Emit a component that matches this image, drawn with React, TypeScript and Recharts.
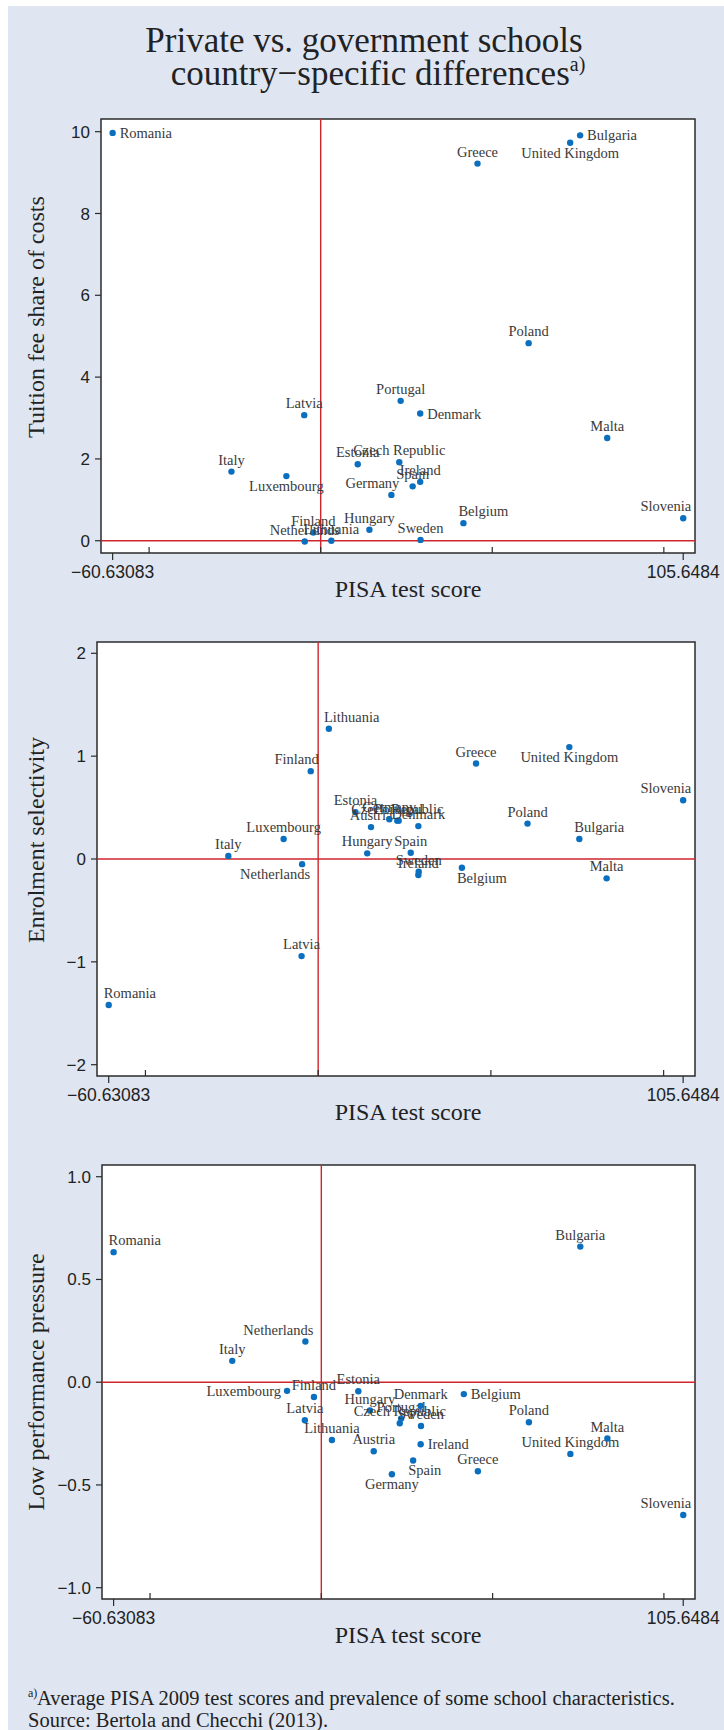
import React from "react"
import { ScatterChart, Scatter, XAxis, YAxis, ReferenceLine, ReferenceArea, CartesianGrid } from "recharts"

// country data
const countries = [
  "Romania", "Italy", "Luxembourg", "Latvia", "Netherlands", "Finland", "Lithuania", "Estonia",
  "Hungary", "Austria", "Germany", "Czech Republic", "Portugal", "Spain", "Denmark", "Ireland",
  "Sweden", "Belgium", "Greece", "Poland", "United Kingdom", "Bulgaria", "Malta", "Slovenia",
]
const pisaScore = [
  -60.63083, -26.0, -10.0, -4.8, -4.65, -2.15, 3.1, 10.8,
  14.2, 15.3, 20.6, 22.9, 23.3, 26.8, 29.0, 29.0,
  29.1, 41.6, 45.7, 60.6, 72.7, 75.6, 83.5, 105.6484,
]
const tuitionShare: (number | null)[] = [
  9.97, 1.69, 1.58, 3.07, -0.02, 0.2, 0.0, 1.87,
  0.27, null, 1.12, 1.92, 3.42, 1.33, 3.11, 1.44,
  0.02, 0.43, 9.22, 4.83, 9.73, 9.91, 2.51, 0.55,
]
const enrolmentSelectivity = [
  -1.42, 0.03, 0.195, -0.944, -0.05, 0.854, 1.266, 0.455,
  0.055, 0.31, 0.387, 0.373, 0.373, 0.061, 0.32, -0.156,
  -0.124, -0.085, 0.928, 0.344, 1.088, 0.195, -0.188, 0.571,
]
const lowPerformancePressure = [
  0.633, 0.104, -0.042, -0.185, 0.198, -0.072, -0.281, -0.044,
  -0.138, -0.336, -0.448, -0.2, -0.177, -0.381, -0.115, -0.302,
  -0.213, -0.058, -0.433, -0.195, -0.349, 0.66, -0.274, -0.646,
]

const xTicks = [-60.63083, -50, 0, 50, 100, 105.6484]
const xTickLabels = ["\u221260.63083", "", "", "", "", "105.6484"]
const tuitionTicks = [0, 2, 4, 6, 8, 10]
const enrolmentTicks = [-2, -1, 0, 1, 2]
const pressureTicks = [-1, -0.5, 0, 0.5, 1]

type Pos = "N" | "NE" | "NW" | "S" | "SE" | "SW" | "E" | "W"

// where each marker label sits (default is above the dot)
const tuitionLabelPos: Record<string, Pos> = {
  Romania: "E", Luxembourg: "S", Germany: "NW", Denmark: "E", Belgium: "NE",
  "United Kingdom": "S", Bulgaria: "E", Slovenia: "NW",
}
const enrolmentLabelPos: Record<string, Pos> = {
  Romania: "NE", Netherlands: "SW", Finland: "NW", Lithuania: "NE", Belgium: "SE",
  "United Kingdom": "S", Bulgaria: "NE", Slovenia: "NW",
}
const pressureLabelPos: Record<string, Pos> = {
  Romania: "NE", Luxembourg: "W", Netherlands: "NW", Germany: "S", Spain: "SE",
  Ireland: "E", Belgium: "E", Slovenia: "NW",
}

const BG = "#dfe6f2"
const DOT = "#0b6fbf"
const RED = "#cf252c"
const SERIF = "'Liberation Serif', 'Times New Roman', serif"
const SANS = "'Liberation Sans', Arial, sans-serif"
const X_DOMAIN: [number, number] = [-64.02, 109.08]
const PLOT_H = 434
const TOP_M = 20

const minus = (s: string) => s.replace("-", "\u2212")

function labelAttrs(pos: Pos, cx: number, cy: number) {
  switch (pos) {
    case "E": return { x: cx + 7, y: cy + 5, anchor: "start" }
    case "W": return { x: cx - 6, y: cy + 5, anchor: "end" }
    case "S": return { x: cx, y: cy + 15, anchor: "middle" }
    case "SE": return { x: cx - 5, y: cy + 15, anchor: "start" }
    case "SW": return { x: cx + 8, y: cy + 15, anchor: "end" }
    case "NE": return { x: cx - 5, y: cy - 7, anchor: "start" }
    case "NW": return { x: cx + 8, y: cy - 7, anchor: "end" }
    default: return { x: cx, y: cy - 7, anchor: "middle" }
  }
}

function Marker(props: any) {
  const { cx, cy, payload, places } = props
  if (cx == null || cy == null) return null
  const a = labelAttrs(places[payload.name] || "N", cx, cy)
  return (
    <g>
      <circle cx={cx} cy={cy} r={3.2} fill={DOT} />
      <text x={a.x} y={a.y} textAnchor={a.anchor} fontFamily={SERIF} fontSize={14.5} fill="#3a3a3a">
        {payload.name}
      </text>
    </g>
  )
}

function XTick(props: any) {
  const { x, y, payload } = props
  const i = xTicks.indexOf(payload.value)
  const label = i >= 0 ? xTickLabels[i] : ""
  return (
    <g>
      <line x1={x} x2={x} y1={y} y2={label ? y + 7 : y - 6} stroke="#2b2b2b" strokeWidth={1.2} />
      {label && (
        <text x={x} y={y + 25} textAnchor="middle" fontFamily={SANS} fontSize={17.5} fill="#222">
          {label}
        </text>
      )}
    </g>
  )
}

function YTitle({ text, shift }: { text: string; shift: number }) {
  const cx = 36
  const cy = TOP_M + PLOT_H / 2 + shift
  return (
    <text x={cx} y={cy} transform={`rotate(-90 ${cx} ${cy})`} textAnchor="middle" dominantBaseline="central"
      fontFamily={SERIF} fontSize={24} fill="#222">
      {text}
    </text>
  )
}

function XTitle() {
  return (
    <text x={408} y={TOP_M + PLOT_H + 44} textAnchor="middle" fontFamily={SERIF} fontSize={24} fill="#222">
      PISA test score
    </text>
  )
}

interface PanelProps {
  top: number
  plotLeft: number
  values: (number | null)[]
  yDomain: [number, number]
  yTicks: number[]
  yFormat: (v: number) => string
  yTitle: string
  titleShift: number
  places: Record<string, Pos>
}

function Panel({ top, plotLeft, values, yDomain, yTicks, yFormat, yTitle, titleShift, places }: PanelProps) {
  const data = countries
    .map((name, i) => ({ name, x: pisaScore[i], y: values[i] }))
    .filter(d => d.y !== null)

  return (
    <div style={{ position: "absolute", left: 0, top }}>
      <ScatterChart width={724} height={TOP_M + PLOT_H + 60} margin={{ top: TOP_M, right: 29, bottom: 0, left: 0 }}>
        <CartesianGrid horizontal={false} vertical={false} fill="#fff" fillOpacity={1} />
        <XAxis
          type="number"
          dataKey="x"
          domain={X_DOMAIN}
          allowDataOverflow
          ticks={xTicks}
          interval={0}
          height={60}
          axisLine={false}
          tickLine={false}
          tickSize={0}
          tickMargin={0}
          tick={<XTick />}
          label={<XTitle />}
        />
        <YAxis
          type="number"
          dataKey="y"
          domain={yDomain}
          allowDataOverflow
          ticks={yTicks}
          interval={0}
          width={plotLeft}
          axisLine={false}
          tickSize={6}
          tickMargin={5}
          tickLine={{ stroke: "#2b2b2b", strokeWidth: 1.2 }}
          tick={{ fontFamily: SANS, fontSize: 17, fill: "#222" }}
          tickFormatter={yFormat}
          label={<YTitle text={yTitle} shift={titleShift} />}
        />
        <ReferenceLine x={0} stroke={RED} strokeWidth={1.4} />
        <ReferenceLine y={0} stroke={RED} strokeWidth={1.4} />
        <Scatter
          data={data}
          isAnimationActive={false}
          shape={(p: any) => <Marker {...p} places={places} />}
        />
        <ReferenceArea
          x1={X_DOMAIN[0]}
          x2={X_DOMAIN[1]}
          y1={yDomain[0]}
          y2={yDomain[1]}
          fill="none"
          stroke="#2b2b2b"
          strokeWidth={1.5}
        />
      </ScatterChart>
    </div>
  )
}

export default function App() {
  return (
    <div style={{ position: "absolute", left: 0, top: 0, width: 724, height: 1730, background: "#fff", overflow: "hidden" }}>
      <div style={{ position: "absolute", left: 8, top: 6, width: 716, height: 1724, background: BG }} />
      <svg style={{ position: "absolute", left: 0, top: 0 }} width={724} height={100}>
        <text x={364} y={52} textAnchor="middle" fontFamily={SERIF} fontSize={35} fill="#222">
          Private vs. government schools
        </text>
        <text x={378} y={85} textAnchor="middle" fontFamily={SERIF} fontSize={35} fill="#222">
          country{"\u2212"}specific differences
          <tspan fontSize={20} dy={-14}>a)</tspan>
        </text>
      </svg>

      <Panel
        top={99}
        plotLeft={101}
        values={tuitionShare}
        yDomain={[-0.3, 10.31]}
        yTicks={tuitionTicks}
        yFormat={v => minus(String(v))}
        yTitle="Tuition fee share of costs"
        titleShift={-19}
        places={tuitionLabelPos}
      />
      <Panel
        top={622}
        plotLeft={97}
        values={enrolmentSelectivity}
        yDomain={[-2.11, 2.11]}
        yTicks={enrolmentTicks}
        yFormat={v => minus(String(v))}
        yTitle="Enrolment selectivity"
        titleShift={-19}
        places={enrolmentLabelPos}
      />
      <Panel
        top={1145}
        plotLeft={102}
        values={lowPerformancePressure}
        yDomain={[-1.055, 1.057]}
        yTicks={pressureTicks}
        yFormat={v => minus(v.toFixed(1))}
        yTitle="Low performance pressure"
        titleShift={0}
        places={pressureLabelPos}
      />

      <svg style={{ position: "absolute", left: 0, top: 1670 }} width={724} height={60}>
        <text x={28} y={27} fontFamily={SERIF} fontSize={12} fill="#222">a)</text>
        <text x={37} y={35} fontFamily={SERIF} fontSize={20.5} fill="#222">
          Average PISA 2009 test scores and prevalence of some school characteristics.
        </text>
        <text x={28} y={57} fontFamily={SERIF} fontSize={20.5} fill="#222">
          Source: Bertola and Checchi (2013).
        </text>
      </svg>
    </div>
  )
}
